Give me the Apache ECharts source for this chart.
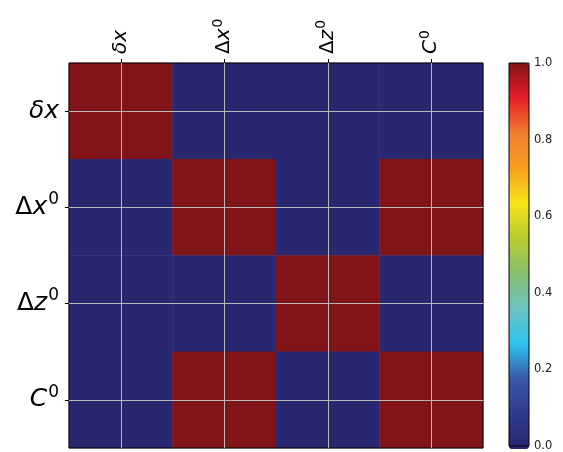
<!DOCTYPE html>
<html><head><meta charset="utf-8">
<script src="https://cdn.jsdelivr.net/npm/echarts@6/dist/echarts.min.js"></script>
<style>html,body{margin:0;padding:0;background:#fff}#c{width:563px;height:452px}</style>
</head><body><div id="c"></div>
<script>
var categories = ['δx', 'Δx0', 'Δz0', 'C0'];
// rows top to bottom, columns left to right
var row_dx = [1, 0, 0, 0];
var row_Dx0 = [0, 1, 0, 1];
var row_Dz0 = [0, 0, 1, 0];
var row_C0 = [0, 1, 0, 1];
var colorTicks = [0, 0.2, 0.4, 0.6, 0.8, 1.0];

var rows = [row_dx, row_Dx0, row_Dz0, row_C0];
var data = [];
rows.forEach(function (r, yi) { r.forEach(function (v, xi) { data.push([xi, yi, v]); }); });

var richLabels = {
  'δx': '{i|δx}',
  'Δx0': '{u|Δ}{i|x}{s|0}',
  'Δz0': '{u|Δ}{i|z}{s|0}',
  'C0': '{i|C}{s|0}'
};
function mkRich(fs, sfs) {
  return {
    i: {fontFamily: 'DejaVu Sans', fontStyle: 'italic', fontSize: fs, color: '#000', lineHeight: fs * 1.3},
    u: {fontFamily: 'DejaVu Sans', fontSize: fs, color: '#000', lineHeight: fs * 1.3},
    s: {fontFamily: 'DejaVu Sans', fontSize: sfs, color: '#000', verticalAlign: 'top', lineHeight: fs * 1.3, padding: [0, 0, 0, 1]}
  };
}

var chart = echarts.init(document.getElementById('c'), null, {renderer: 'canvas'});
chart.setOption({
  animation: false,
  grid: [
    {left: 69, top: 63, width: 414, height: 385, show: true, borderColor: '#000', borderWidth: 1, backgroundColor: 'transparent', z: 5},
    {left: 509, top: 63, width: 20, height: 386, show: true, borderColor: '#000', borderWidth: 1, backgroundColor: 'transparent', z: 10}
  ],
  xAxis: [
    {type: 'category', gridIndex: 0, data: categories, position: 'top',
     axisLine: {show: false}, splitLine: {show: false}, splitArea: {show: false},
     axisTick: {show: true, alignWithLabel: true, length: 4, lineStyle: {color: '#000'}},
     axisLabel: {rotate: -90, margin: 9, formatter: function (v) { return richLabels[v]; }, rich: mkRich(20, 14)}},
    {type: 'value', gridIndex: 1, show: false, min: 0, max: 1}
  ],
  yAxis: [
    {type: 'category', gridIndex: 0, data: categories, inverse: true,
     axisLine: {show: false}, splitLine: {show: false}, splitArea: {show: false},
     axisTick: {show: true, alignWithLabel: true, length: 4, lineStyle: {color: '#000'}},
     axisLabel: {margin: 10, formatter: function (v) { return richLabels[v]; }, rich: mkRich(25, 17)}},
    {type: 'value', gridIndex: 1, min: 0, max: 1, interval: 0.2, position: 'right',
     axisLine: {show: false}, splitLine: {show: false},
     axisTick: {show: true, length: 4, lineStyle: {color: '#000'}},
     axisLabel: {margin: 5, fontSize: 11.5, color: '#222', fontFamily: 'DejaVu Sans', formatter: function (v) { return v.toFixed(1); }}}
  ],
  visualMap: {
    type: 'continuous', min: 0, max: 1, calculable: false, seriesIndex: 0, dimension: 2,
    left: 509, top: 63, itemWidth: 20, itemHeight: 386, padding: 0, text: null, showLabel: false,
    inRange: {color: ['#282770', '#2f3b8c', '#3a58a8', '#2ec4f0', '#6cc2c0', '#88c070', '#b8cc30', '#f8e418', '#f8a020', '#f07f30', '#e81c28', '#801418']}
  },
  series: [{
    type: 'heatmap', xAxisIndex: 0, yAxisIndex: 0, data: data, progressive: 0,
    itemStyle: {borderWidth: 0},
    emphasis: {disabled: true},
    markLine: {
      silent: true, symbol: 'none', animation: false,
      label: {show: false},
      lineStyle: {color: '#b8b8b8', type: 'solid', width: 1},
      data: categories.map(function (c) { return {xAxis: c}; }).concat(categories.map(function (c) { return {yAxis: c}; }))
    }
  }]
});
</script></body></html>
